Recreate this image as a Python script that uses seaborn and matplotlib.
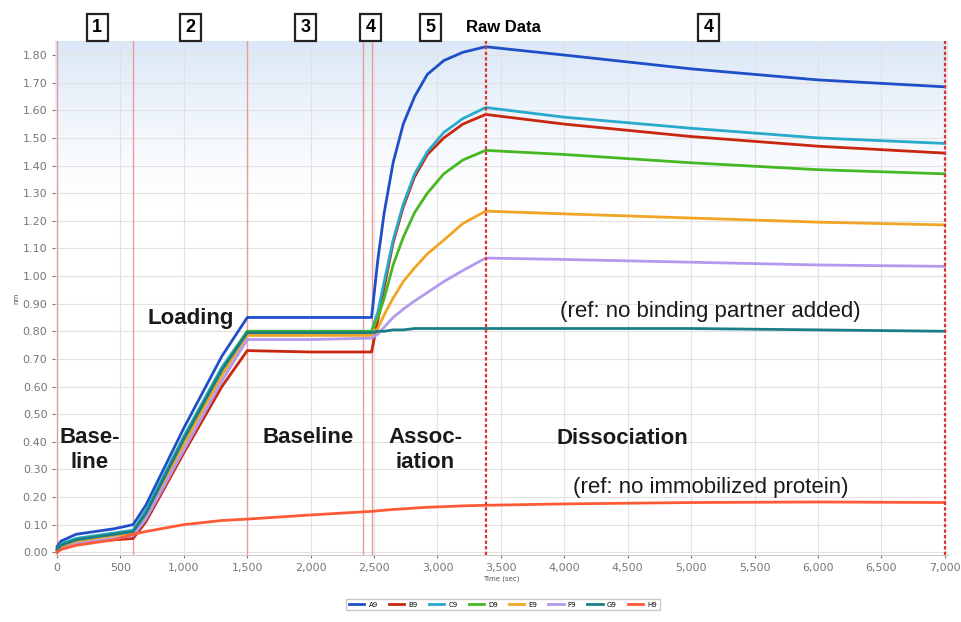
import numpy as np
import pandas as pd
import seaborn as sns
import matplotlib.pyplot as plt
from matplotlib.ticker import FuncFormatter, MultipleLocator

time = [0, 30, 150, 300, 450, 600, 700, 1000, 1300, 1500, 2000, 2480,
        2530, 2580, 2650, 2730, 2820, 2920, 3050, 3200, 3380,
        4000, 5000, 6000, 7000]

a9 = [0.02, 0.04, 0.065, 0.075, 0.085, 0.10, 0.17, 0.45, 0.71, 0.85, 0.85, 0.85,
      1.06, 1.23, 1.41, 1.55, 1.65, 1.73, 1.78, 1.81, 1.83,
      1.80, 1.75, 1.71, 1.685]
b9 = [0.0, 0.015, 0.03, 0.04, 0.045, 0.05, 0.11, 0.36, 0.60, 0.73, 0.725, 0.725,
      0.84, 0.96, 1.12, 1.25, 1.36, 1.44, 1.50, 1.55, 1.585,
      1.55, 1.505, 1.47, 1.445]
c9 = [0.01, 0.03, 0.05, 0.06, 0.07, 0.08, 0.15, 0.42, 0.67, 0.80, 0.80, 0.80,
      0.87, 0.98, 1.13, 1.26, 1.37, 1.45, 1.52, 1.57, 1.61,
      1.575, 1.535, 1.50, 1.48]
d9 = [0.01, 0.025, 0.045, 0.055, 0.065, 0.075, 0.14, 0.41, 0.66, 0.80, 0.80, 0.80,
      0.85, 0.92, 1.04, 1.14, 1.23, 1.30, 1.37, 1.42, 1.455,
      1.44, 1.41, 1.385, 1.37]
e9 = [0.005, 0.02, 0.04, 0.05, 0.06, 0.07, 0.13, 0.39, 0.64, 0.785, 0.785, 0.785,
      0.81, 0.86, 0.92, 0.98, 1.03, 1.08, 1.13, 1.19, 1.235,
      1.225, 1.21, 1.195, 1.185]
f9 = [0.0, 0.01, 0.03, 0.04, 0.05, 0.06, 0.12, 0.37, 0.62, 0.77, 0.77, 0.775,
      0.79, 0.815, 0.85, 0.88, 0.91, 0.94, 0.98, 1.02, 1.065,
      1.06, 1.05, 1.04, 1.035]
g9 = [0.01, 0.025, 0.045, 0.055, 0.065, 0.075, 0.14, 0.41, 0.66, 0.795, 0.795, 0.795,
      0.80, 0.80, 0.805, 0.805, 0.81, 0.81, 0.81, 0.81, 0.81,
      0.81, 0.81, 0.805, 0.80]
h9 = [0.0, 0.01, 0.025, 0.035, 0.045, 0.065, 0.075, 0.10, 0.115, 0.12, 0.135, 0.148,
      0.15, 0.152, 0.155, 0.157, 0.16, 0.163, 0.165, 0.168, 0.17,
      0.175, 0.18, 0.182, 0.18]

sensors = ["A9", "B9", "C9", "D9", "E9", "F9", "G9", "H9"]
colors = ["#1f4fc8", "#c8260e", "#27aacb", "#45b824", "#f0a526",
          "#b39af0", "#1b7d88", "#ff5a36"]
step_lines = [0, 600, 1500, 2415, 2480]
step_dotted = [3380, 7000]

series = [a9, b9, c9, d9, e9, f9, g9, h9]
df = pd.concat([pd.DataFrame({"Time": time, "nm": s, "Sensor": n})
                for n, s in zip(sensors, series)], ignore_index=True)

fig = plt.figure(figsize=(9.62, 6.22), dpi=100)
ax = fig.add_axes([0.0572, 0.1077, 0.928, 0.826])

xlim = (-16, 7024)
ylim = (-0.01, 1.85)

# pale blue wash at the top of the plot area
grad = np.ones((200, 2, 3))
frac = np.clip((np.linspace(0, 1, 200) - 0.68) / 0.32, 0, 1) ** 1.3
top = np.array([0.86, 0.91, 0.97])
grad[:] = (1 - frac[:, None, None]) * 1.0 + frac[:, None, None] * top
ax.imshow(grad, extent=(*xlim, *ylim), origin="lower", aspect="auto", zorder=0)

for x in step_lines:
    ax.axvline(x, color="#ee9a9a", lw=1.0, zorder=1)
for x in step_dotted:
    ax.axvline(x, color="#e03030", lw=1.6, ls=(0, (1.5, 1)), zorder=4)

sns.lineplot(data=df, x="Time", y="nm", hue="Sensor", palette=colors,
             estimator=None, lw=2.0, ax=ax, zorder=3, legend=False)

ax.set_xlim(*xlim)
ax.set_ylim(*ylim)
ax.xaxis.set_major_locator(MultipleLocator(500))
ax.yaxis.set_major_locator(MultipleLocator(0.1))
ax.xaxis.set_major_formatter(FuncFormatter(lambda v, p: f"{int(v):,}"))
ax.yaxis.set_major_formatter(FuncFormatter(lambda v, p: f"{v:.2f}"))
ax.grid(True, color="#e2e2e2", lw=0.8, zorder=0)
ax.set_axisbelow(True)
ax.tick_params(labelsize=8, colors="#777777", length=2)
for side in ["top", "right", "left"]:
    ax.spines[side].set_visible(False)
ax.spines["bottom"].set_color("#cccccc")
ax.set_xlabel("Time (sec)", fontsize=5, color="#555555", labelpad=2)
ax.set_ylabel("nm", fontsize=5, color="#555555", labelpad=2)

bold = dict(fontfamily="Liberation Sans", fontweight="bold", fontsize=16,
            color="#1a1a1a", ha="center", va="center", zorder=5)
ax.text(1050, 0.848, "Loading", **bold)
ax.text(260, 0.37, "Base-\nline", linespacing=1.3, **bold)
ax.text(1981, 0.417, "Baseline", **bold)
ax.text(2905, 0.37, "Assoc-\niation", linespacing=1.3, **bold)
ax.text(4460, 0.413, "Dissociation", **bold)

plain = dict(fontfamily="Liberation Sans", fontsize=16, color="#1a1a1a",
             ha="center", va="center", zorder=5)
ax.text(5155, 0.87, "(ref: no binding partner added)", **plain)
ax.text(5155, 0.235, "(ref: no immobilized protein)", **plain)

box = dict(boxstyle="square,pad=0.3", fc="white", ec="#222222", lw=1.6)
for x, lab in zip([316, 1050, 1957, 2470, 2944, 5138], ["1", "2", "3", "4", "5", "4"]):
    ax.text(x, 1.90, lab, fontfamily="Liberation Sans", fontweight="bold",
            fontsize=13, ha="center", va="center", bbox=box, clip_on=False)
ax.text(3520, 1.90, "Raw Data", fontfamily="Liberation Sans", fontweight="bold",
        fontsize=12, ha="center", va="center", clip_on=False)

handles = [plt.Line2D([], [], color=c, lw=2) for c in colors]
fig.legend(handles, sensors, loc="center", bbox_to_anchor=(0.523, 0.028),
           ncol=8, fontsize=5, frameon=True, handlelength=2.2, columnspacing=1.6,
           handletextpad=0.6, edgecolor="#bbbbbb", fancybox=False)

fig.savefig("out.png", dpi=100)
